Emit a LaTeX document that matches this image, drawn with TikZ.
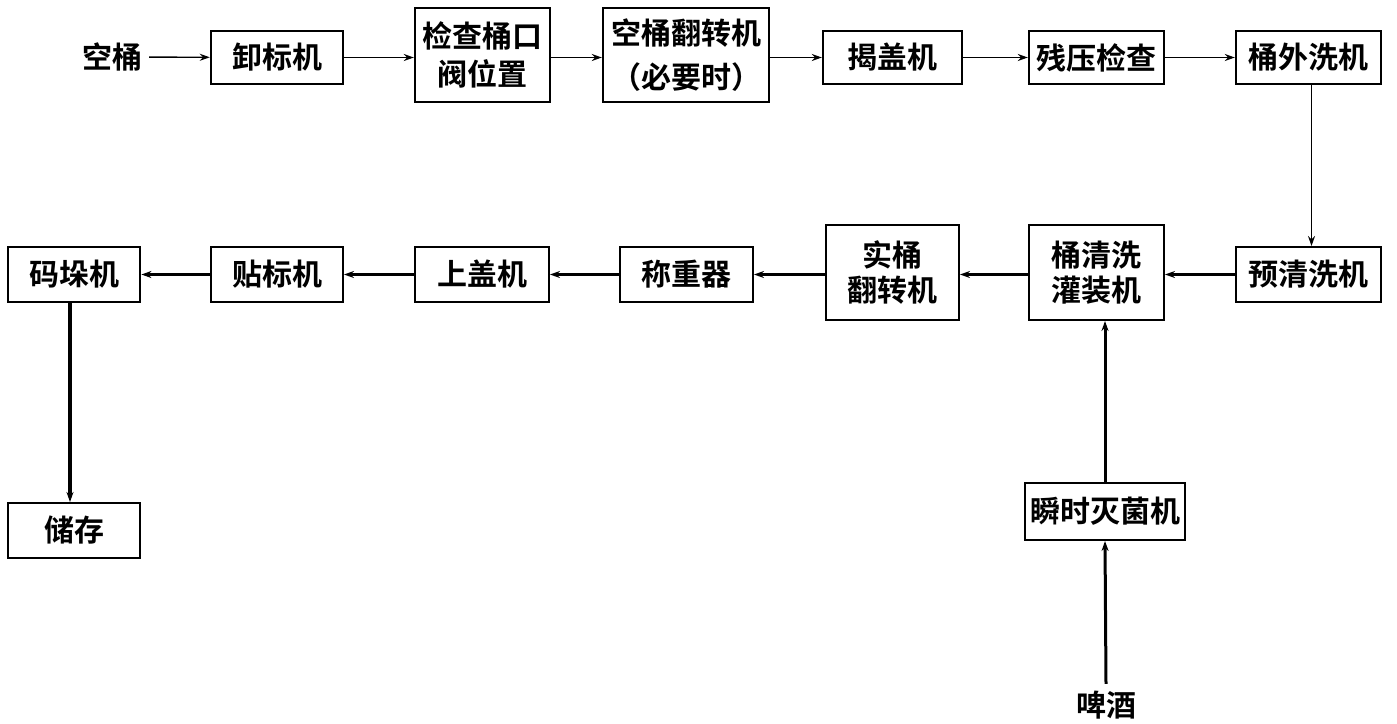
\documentclass[tikz,border=0pt]{standalone}
\usepackage{fontspec}
\setmainfont{Noto Sans CJK SC}[BoldFont={Noto Sans CJK SC Bold}]
\usetikzlibrary{arrows.meta}
\begin{document}
\begin{tikzpicture}[x=0.5pt,y=-0.5pt,
  box/.style={draw,line width=1.2pt,rectangle,inner sep=0pt,font=\fontsize{15}{19}\selectfont\bfseries,align=center},
  thin/.style={line width=0.7pt,-{Stealth[length=5pt,width=3.5pt]}},
  thick/.style={line width=1.5pt,-{Stealth[length=5pt,width=3.5pt]}},
  lbl/.style={font=\fontsize{15}{19}\selectfont\bfseries}]
\useasboundingbox (0,0) rectangle (1397,723);
% top row
\node[lbl] (kt) at (112,57) {空桶};
\node[box,minimum width=66pt,minimum height=26.5pt] (xb) at (277,57.5) {卸标机};
\node[box,minimum width=67.5pt,minimum height=47pt] (jc) at (482.5,55) {检查桶口\\阀位置};
\node[box,minimum width=83pt,minimum height=47pt,font=\fontsize{15}{22}\selectfont\bfseries] (kf) at (686,55) {空桶翻转机\\（必要时）};
\node[box,minimum width=69.5pt,minimum height=26.5pt] (jg) at (892.5,57.5) {揭盖机};
\node[box,minimum width=67.5pt,minimum height=26.5pt] (cy) at (1096.5,57.5) {残压检查};
\node[box,minimum width=72.5pt,minimum height=26.5pt] (tw) at (1308.5,57.5) {桶外洗机};
% second row
\node[box,line width=1pt,minimum width=72.5pt,minimum height=27.5pt] (yq) at (1308.5,274.5) {预清洗机};
\node[box,line width=1pt,minimum width=67.5pt,minimum height=47.5pt,font=\fontsize{15}{17.5}\selectfont\bfseries] (tq) at (1096.5,272.5) {桶清洗\\灌装机};
\node[box,line width=1pt,minimum width=66.5pt,minimum height=47.5pt,font=\fontsize{15}{17.5}\selectfont\bfseries] (sf) at (892.5,272.5) {实桶\\翻转机};
\node[box,line width=1pt,minimum width=66.5pt,minimum height=27.5pt] (cz) at (686.5,274.5) {称重器};
\node[box,line width=1pt,minimum width=67pt,minimum height=27.5pt] (sg) at (482,274.5) {上盖机};
\node[box,line width=1pt,minimum width=66pt,minimum height=27.5pt] (tb) at (277,274.5) {贴标机};
\node[box,line width=1.4pt,minimum width=66pt,minimum height=27.5pt] (md) at (74,274.5) {码垛机};
\node[box,line width=1pt,minimum width=66pt,minimum height=27.5pt] (cc) at (74,530.5) {储存};
\node[box,line width=1pt,minimum width=80pt,minimum height=28.5pt] (jm) at (1105,511.5) {瞬时灭菌机};
\node[lbl] (pj) at (1106,705) {啤酒};
% connectors top
\draw[thin] (kt) -- (xb);
\draw[thin] (xb) -- (xb -| jc.west);
\draw[thin] (jc.east |- xb) -- (xb -| kf.west);
\draw[thin] (kf.east |- jg) -- (jg);
\draw[thin] (jg) -- (cy);
\draw[thin] (cy) -- (tw);
\draw[thin] ([xshift=1.5]tw.south) -- ([xshift=1.5]tw.south |- yq.north);
% connectors row 2
\draw[thick] (yq) -- (yq -| tq.east);
\draw[thick] (tq.west |- yq) -- (yq -| sf.east);
\draw[thick] (sf.west |- cz) -- (cz);
\draw[thick] (cz) -- (sg);
\draw[thick] (sg) -- (tb);
\draw[thick] (tb) -- (md);
\draw[thick,line width=1.7pt] ([xshift=-2]md.south) -- ([xshift=-2]cc.north);
\draw[thick] (pj.north) -- (jm.south);
\draw[thick] (jm.north) -- (jm.north |- tq.south);
\end{tikzpicture}
\end{document}
